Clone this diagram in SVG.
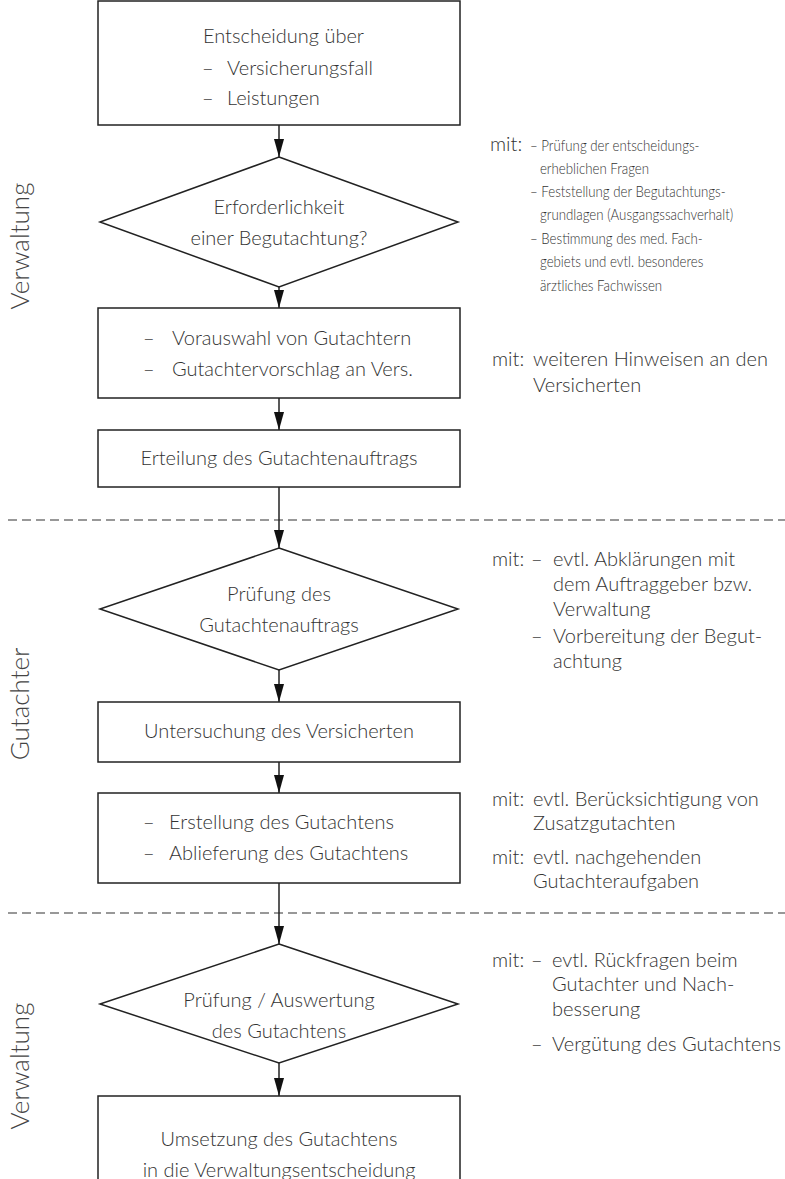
<svg xmlns="http://www.w3.org/2000/svg" width="785" height="1179" viewBox="0 0 785 1179">
<defs>
<style>
.bx{fill:#fff;stroke:#222;stroke-width:1.5}
.t{font-family:"Lato","Open Sans","Liberation Sans",sans-serif;font-weight:300;font-size:20px;fill:#333}
.c{text-anchor:middle}
.s{font-size:16px}
.side{font-family:"Lato","Open Sans","Liberation Sans",sans-serif;font-weight:300;font-size:26px;fill:#444;text-anchor:middle}
.cn{stroke:#222;stroke-width:1.5;fill:none}
.dash{stroke:#333;stroke-width:1.2;stroke-dasharray:9 5}
</style>
<marker id="ah" markerWidth="18" markerHeight="10" refX="18" refY="5" orient="auto" markerUnits="userSpaceOnUse">
<path d="M0,0 L18,5 L0,10 Z" fill="#111"/>
</marker>
</defs>
<rect width="785" height="1179" fill="#fff"/>

<g id="lanes">
<line class="dash" x1="8" y1="520" x2="785" y2="520"/>
<line class="dash" x1="8" y1="913" x2="785" y2="913"/>
<text class="side" transform="translate(29,246) rotate(-90)">Verwaltung</text>
<text class="side" transform="translate(29,704) rotate(-90)">Gutachter</text>
<text class="side" transform="translate(29,1066) rotate(-90)">Verwaltung</text>
</g>

<g id="connectors">
<line class="cn" x1="279" y1="125" x2="279" y2="157" marker-end="url(#ah)"/>
<line class="cn" x1="279" y1="287" x2="279" y2="308" marker-end="url(#ah)"/>
<line class="cn" x1="279" y1="398" x2="279" y2="430" marker-end="url(#ah)"/>
<line class="cn" x1="279" y1="487" x2="279" y2="548" marker-end="url(#ah)"/>
<line class="cn" x1="279" y1="670" x2="279" y2="702" marker-end="url(#ah)"/>
<line class="cn" x1="279" y1="762" x2="279" y2="793" marker-end="url(#ah)"/>
<line class="cn" x1="279" y1="883" x2="279" y2="944" marker-end="url(#ah)"/>
<line class="cn" x1="279" y1="1063" x2="279" y2="1096" marker-end="url(#ah)"/>
</g>

<g id="n1">
<rect class="bx" x="98" y="1" width="362" height="124"/>
<text class="t" x="203" y="43">Entscheidung über</text>
<text class="t" x="202" y="75">–</text><text class="t" x="227" y="75">Versicherungsfall</text>
<text class="t" x="202" y="105">–</text><text class="t" x="227" y="105">Leistungen</text>
</g>

<g id="n2">
<polygon class="bx" points="279,157 458,222 279,287 100,222"/>
<text class="t c" x="279" y="214">Erforderlichkeit</text>
<text class="t c" x="279" y="245">einer Begutachtung?</text>
</g>

<g id="n3">
<rect class="bx" x="98" y="308" width="362" height="90"/>
<text class="t" x="143" y="345">–</text><text class="t" x="172" y="345">Vorauswahl von Gutachtern</text>
<text class="t" x="143" y="376">–</text><text class="t" x="172" y="376">Gutachtervorschlag an Vers.</text>
</g>

<g id="n4">
<rect class="bx" x="98" y="430" width="362" height="57"/>
<text class="t c" x="279" y="465">Erteilung des Gutachtenauftrags</text>
</g>

<g id="n5">
<polygon class="bx" points="279,548 458,609 279,670 100,609"/>
<text class="t c" x="279" y="601">Prüfung des</text>
<text class="t c" x="279" y="632">Gutachtenauftrags</text>
</g>

<g id="n6">
<rect class="bx" x="98" y="702" width="362" height="60"/>
<text class="t c" x="279" y="738">Untersuchung des Versicherten</text>
</g>

<g id="n7">
<rect class="bx" x="98" y="793" width="362" height="90"/>
<text class="t" x="143" y="829">–</text><text class="t" x="169" y="829">Erstellung des Gutachtens</text>
<text class="t" x="143" y="860">–</text><text class="t" x="169" y="860">Ablieferung des Gutachtens</text>
</g>

<g id="n8">
<polygon class="bx" points="279,944 458,1004 279,1063 100,1004"/>
<text class="t c" x="279" y="1007">Prüfung / Auswertung</text>
<text class="t c" x="279" y="1038">des Gutachtens</text>
</g>

<g id="n9">
<rect class="bx" x="98" y="1096" width="362" height="100"/>
<text class="t c" x="279" y="1146">Umsetzung des Gutachtens</text>
<text class="t c" x="279" y="1177">in die Verwaltungsentscheidung</text>
</g>

<g id="notes">
<text class="t" x="490" y="151">mit:</text>
<g transform="translate(530,0) scale(0.83,1)">
<text class="t s" x="0" y="151">– Prüfung der entscheidungs-</text>
<text class="t s" x="12" y="174">erheblichen Fragen</text>
<text class="t s" x="0" y="197">– Feststellung der Begutachtungs-</text>
<text class="t s" x="12" y="220">grundlagen (Ausgangssachverhalt)</text>
<text class="t s" x="0" y="244">– Bestimmung des med. Fach-</text>
<text class="t s" x="12" y="267">gebiets und evtl. besonderes</text>
<text class="t s" x="12" y="291">ärztliches Fachwissen</text>
</g>

<text class="t" x="492" y="366">mit:</text><text class="t" x="533" y="366">weiteren Hinweisen an den</text>
<text class="t" x="533" y="392">Versicherten</text>

<text class="t" x="492" y="566">mit:</text><text class="t" x="531" y="566">–</text><text class="t" x="553" y="566">evtl. Abklärungen mit</text>
<text class="t" x="553" y="591">dem Auftraggeber bzw.</text>
<text class="t" x="553" y="616">Verwaltung</text>
<text class="t" x="531" y="643">–</text><text class="t" x="553" y="643">Vorbereitung der Begut-</text>
<text class="t" x="553" y="668">achtung</text>

<text class="t" x="492" y="806">mit:</text><text class="t" x="533" y="806">evtl. Berücksichtigung von</text>
<text class="t" x="533" y="830">Zusatzgutachten</text>
<text class="t" x="492" y="864">mit:</text><text class="t" x="533" y="864">evtl. nachgehenden</text>
<text class="t" x="533" y="888">Gutachteraufgaben</text>

<text class="t" x="492" y="967">mit:</text><text class="t" x="531" y="967">–</text><text class="t" x="552" y="967">evtl. Rückfragen beim</text>
<text class="t" x="552" y="991">Gutachter und Nach-</text>
<text class="t" x="552" y="1016">besserung</text>
<text class="t" x="531" y="1051">–</text><text class="t" x="552" y="1051">Vergütung des Gutachtens</text>
</g>
</svg>
